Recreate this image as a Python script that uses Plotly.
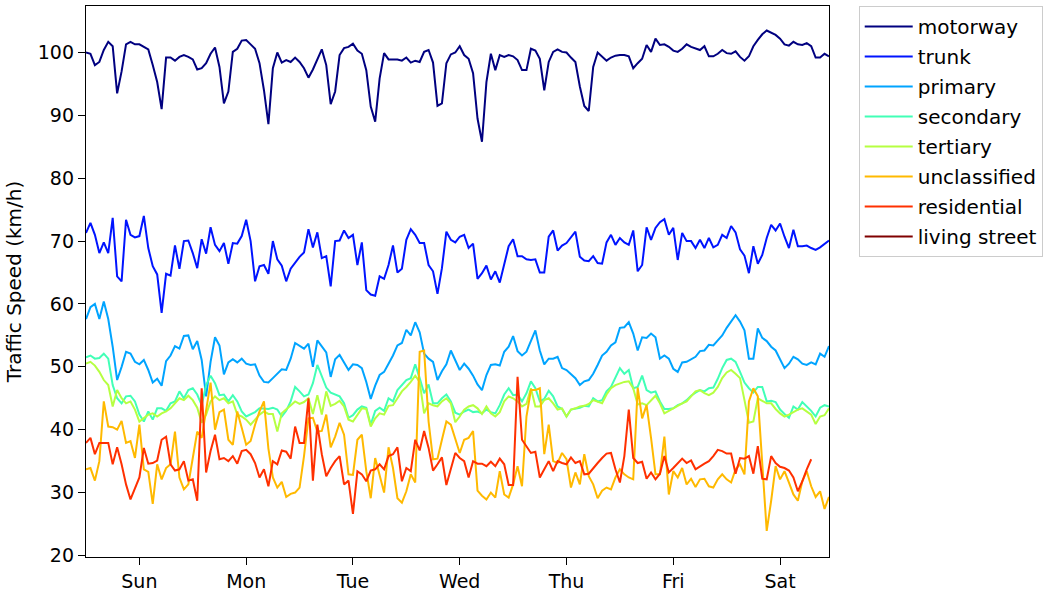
import plotly.graph_objects as go

# hourly average speed over one week, Sunday 00:00 .. Saturday 23:00
hours = list(range(168))
day_names = ["Sun", "Mon", "Tue", "Wed", "Thu", "Fri", "Sat"]
day_ticks = [12 + 24 * i for i in range(7)]

motorway = [
    100, 99.8, 98, 98.5, 100.4, 101.7, 101, 93.5, 97, 101.3,
    101.7, 101.3, 101.3, 100.9, 100.5, 98, 95.3, 91, 99.2, 99.2,
    98.7, 99.3, 99.6, 99.3, 98.9, 97.3, 97.5, 98.3, 99.8, 100.8,
    97.7, 91.9, 93.8, 100.1, 100.6, 101.9, 102, 101.3, 100.6, 98.3,
    94, 88.6, 97.5, 100, 98.4, 98.8, 98.5, 99.2, 98.5, 97.5,
    96, 97.3, 99, 100.5, 98, 91.8, 93.8, 99.6, 100.7, 100.9,
    101.4, 100.3, 99.8, 97.2, 91.4, 89, 95.9, 99.9, 98.9, 98.9,
    98.9, 98.7, 99.2, 98.4, 98.7, 98.5, 100.1, 100.4, 98.4, 91.5,
    91.9, 98.3, 99.7, 100, 101, 99.6, 99, 96.7, 89.5, 85.8,
    95.3, 99.8, 97.2, 99.6, 99.3, 99.6, 99.4, 98.8, 97.2, 97.2,
    100.6, 100.3, 99, 94, 98.5, 100.1, 100.5, 100.1, 100, 99.2,
    98.5, 94.6, 91.5, 90.7, 97.7, 100, 99.3, 98.7, 99.2, 99.5,
    99.6, 99.6, 99.4, 97.5, 98.3, 99, 101.2, 100.1, 102.2, 101.2,
    101.3, 100.9, 100.3, 100.1, 100.6, 101.3, 100.9, 100.6, 100.4, 101,
    99.4, 99.4, 99.8, 100.4, 99.9, 99.8, 100.2, 99.3, 98.7, 99.4,
    101, 102, 102.9, 103.5, 103.1, 102.8, 102.2, 101.3, 101.1, 101.7,
    101.3, 101.2, 101.5, 101, 99.2, 99.2, 99.8, 99.4,
]

trunk = [
    71.3, 72.9, 71, 68.1, 69.8, 68.1, 73.7, 64.4, 63.6, 73.4,
    71, 70.6, 70.8, 74, 68.9, 66, 64.7, 58.6, 64.8, 64.5,
    69.3, 65.6, 70, 70.1, 68.1, 65.7, 70.3, 68, 72.2, 69.4,
    68.4, 69.7, 66.4, 69.7, 69.6, 70.8, 73.4, 70, 63.6, 66,
    66.2, 64.8, 70, 67.1, 66.1, 63.6, 65.6, 66.5, 67.5, 68.2,
    71.9, 69, 71.4, 67.3, 67.6, 62.8, 70, 70.1, 71.7, 70.5,
    71, 66.2, 69.8, 62.2, 61.5, 61.3, 64.4, 64, 66.2, 69.3,
    65, 65.6, 70.2, 71.9, 71, 69.7, 69.7, 66.2, 65.2, 61.6,
    65.7, 71.5, 70.2, 69.8, 70.7, 71, 68.9, 69.6, 64, 64.9,
    66.1, 63.9, 65.2, 63.4, 66.1, 69.2, 70.3, 67.6, 67.6, 67.1,
    67, 67.1, 65, 65, 70.7, 71.7, 68.5, 69.3, 69.7, 70.6,
    71.5, 67.5, 66.9, 66.8, 67.6, 66.5, 66.4, 69.8, 71, 69.4,
    70.5, 69.8, 69.4, 71.7, 65.2, 66.2, 72.2, 70.2, 72.1, 73,
    73.5, 71, 72.1, 67, 71.3, 70, 70, 68.9, 70.2, 68.9,
    70.5, 69, 69.4, 71, 70.5, 72.4, 71.4, 68.7, 67.7, 64.9,
    69.2, 66.4, 67.8, 70.5, 72.6, 71.7, 72.8, 70.7, 68.9, 71.8,
    69.2, 69.2, 69.3, 68.9, 68.6, 69, 69.6, 70.1,
]

primary = [
    57.6, 59.5, 60, 57.6, 60.4, 57.6, 53.2, 47.9, 50, 52.4,
    52.1, 50.8, 50.4, 51.1, 49.5, 47.5, 48.1, 47, 50.9, 51.8,
    53.3, 52.9, 54.9, 55, 52.8, 54.1, 51.1, 45.3, 50.8, 54.7,
    53.4, 48.8, 50.7, 51.2, 50.7, 51.3, 50.5, 50.3, 50.4, 48.6,
    47.6, 47.5, 48.2, 48.9, 49.6, 49.5, 51.3, 53.8, 53.4, 52.9,
    53.7, 50, 54.2, 53.3, 52.3, 48.4, 51.2, 51.9, 50.8, 49.5,
    50.4, 50.3, 49.8, 47.6, 44.9, 47, 48.7, 49.2, 50.5, 51.8,
    53.4, 53.8, 55.9, 55, 57.1, 55.5, 52.1, 51.3, 50.8, 47.9,
    49.3, 50.4, 52.6, 51, 49.5, 50.5, 49.7, 48.6, 47.2, 46.3,
    48.7, 50.3, 50.4, 50.2, 52.4, 53.2, 54.9, 52.5, 51.8, 52.4,
    54.2, 55.8, 52.6, 50.4, 51.3, 51.3, 51.6, 49.8, 49.5, 48.8,
    48.2, 47.1, 47.7, 47.9, 48.9, 50.3, 51.8, 52.4, 53.4, 53.9,
    56.2, 56.3, 57.1, 55.3, 52.6, 54.7, 54.6, 55.3, 54.7, 51.3,
    51.8, 51.3, 49.7, 49.2, 50.7, 50.8, 51.2, 51.6, 52.5, 52.6,
    53.5, 53.4, 54.2, 55, 56.2, 57.2, 58.2, 57.2, 55.8, 51.3,
    51.3, 56.1, 54.6, 54.1, 53.2, 52.6, 51.3, 49.8, 50.5, 51.6,
    51.2, 50.5, 50.3, 50.7, 50.4, 52.1, 51.6, 53.3,
]

secondary = [
    51.5, 51.8, 51.3, 51.4, 52.1, 51.3, 47.1, 45, 44.2, 45.3,
    45.4, 44.5, 42.4, 41.3, 42.9, 41.6, 43.4, 43.4, 43, 44.2,
    44.5, 46.1, 45, 46.3, 46.6, 45.6, 43.9, 47.1, 48.6, 47.4,
    45.5, 45.6, 44.5, 45.5, 44.5, 42.9, 42.1, 42.4, 42.8, 43.4,
    43.4, 43.3, 43.5, 43.2, 42.1, 43, 44.5, 46.8, 46.1, 45.3,
    45.6, 47.4, 50.3, 48.4, 46.7, 45.9, 45.6, 45.3, 44.2, 41.9,
    42.3, 43.2, 43.7, 43.5, 40.8, 43, 43.5, 43, 45, 44.5,
    46.3, 47.1, 47.9, 48.2, 50.4, 48.2, 45.8, 47.2, 44.2, 44.2,
    45, 45.6, 44.5, 42.7, 42.4, 42.9, 43.2, 42.8, 42.9, 42.6,
    43.2, 42.8, 42.6, 43.9, 45.6, 46.6, 45.5, 45.6, 44.5, 45.8,
    47.7, 46.6, 44.5, 44.9, 46.2, 45.3, 43.7, 43.3, 42.1, 43.2,
    43.3, 43.5, 43.8, 43.7, 45, 44.5, 44.7, 46.1, 46.8, 48.2,
    49.8, 48.9, 49.5, 46.6, 46.8, 48.6, 46.3, 45.9, 46.1, 44.5,
    43.3, 43.3, 43.4, 43.9, 44.2, 44.7, 45.4, 45.9, 46.3, 46.1,
    46.6, 46.7, 48.1, 49.8, 51.1, 51.3, 50.8, 49.2, 47.5, 46.6,
    45.9, 46.8, 46.8, 44.5, 44.6, 44.4, 43.2, 42.5, 41.9, 43.7,
    43.2, 44.4, 43.7, 43, 42.1, 43.5, 43.9, 43.7,
]

tertiary = [
    50.5, 50.8, 50.2, 49.2, 47.9, 47.1, 43.7, 46.3, 45, 44.2,
    44.5, 43.2, 41.3, 41.8, 42.4, 42.6, 42.1, 42.6, 42.9, 43.4,
    44.2, 45, 44.7, 45.4, 44.7, 43.5, 41.1, 42.4, 44.5, 45.3,
    44.7, 45, 44.2, 44.5, 42.4, 42.1, 41.6, 40.8, 41.6, 42.4,
    42.9, 42.5, 42.5, 39.7, 42.6, 43.2, 43.8, 44.5, 44.1, 44.4,
    45, 42.5, 45.5, 42.4, 46.1, 43.8, 44.1, 44.6, 43.7, 41.6,
    41.3, 42.4, 43.4, 43.3, 40.5, 41.8, 42.6, 42.4, 43.8, 43.9,
    45.1, 46.1, 46.8, 47.6, 48.6, 47.6, 42.6, 44.2, 43.9, 43.7,
    44.5, 45, 44.2, 41.2, 42.1, 43.2, 43.7, 43.9, 43.4, 42.5,
    43.7, 42.6, 42.1, 42.8, 44.5, 45.3, 45, 44.5, 43.7, 44.1,
    46.6, 43.7, 43.7, 44.7, 45, 44.2, 43.2, 43.4, 42.1, 43.2,
    43.4, 43.7, 43.8, 44.1, 44.7, 44.5, 44.2, 45.6, 46.6, 47.1,
    47.4, 47.6, 47.7, 46.6, 44, 44.2, 43.9, 44.7, 45.4, 44.2,
    42.6, 43, 43.4, 43.9, 44.2, 44.5, 45.3, 46.1, 46.3, 45.8,
    45.5, 45.9, 46.8, 48.2, 49.1, 49.5, 48.9, 48.2, 44.7, 41.1,
    41.3, 45, 44.6, 44.2, 44.2, 43.3, 42.6, 42.1, 42.4, 42.8,
    43.2, 43.4, 42.9, 42.4, 40.9, 42.1, 42.3, 43.4,
]

unclassified = [
    33.7, 33.9, 31.9, 35, 44.5, 40.5, 40.4, 40, 41.4, 37.9,
    38.2, 35.5, 40.8, 33.7, 33.3, 28.2, 34.5, 32.1, 33.9, 34.5,
    39.7, 32.4, 30.5, 31.3, 35.5, 39.7, 38.7, 43.4, 47.5, 40,
    42.8, 43.2, 38.4, 37.6, 42.9, 40.3, 37.6, 38.2, 40.8, 42.9,
    44.5, 37, 32.4, 30.8, 31.7, 29.3, 29.8, 30, 30.8, 35.8,
    41.8, 41.9, 39.7, 39.8, 42.4, 37.2, 38.9, 41.1, 39.2, 32.9,
    32.8, 38.4, 39.2, 33.4, 29.1, 35.5, 32.9, 30, 37.2, 33.9,
    29.1, 28.4, 30.2, 32.9, 31.6, 52.4, 52.6, 41.3, 35.3, 35.4,
    38.4, 41.3, 40.8, 38.7, 36.3, 38.4, 38.7, 39.8, 30.3, 29.5,
    28.9, 30, 29.2, 33.4, 29.7, 29.2, 31.3, 34.2, 31, 42.1,
    46.3, 46.3, 46.6, 36.1, 40.8, 35, 34.7, 36.3, 35.3, 30.8,
    33.2, 31.3, 36.1, 32.6, 31.3, 29.1, 30.3, 30.8, 30.5, 32.4,
    33.7, 32.9, 32.4, 32.1, 46.7, 41.8, 43.9, 38.7, 32.9, 32.9,
    38.9, 29.7, 33.4, 32.4, 33.9, 31.3, 32.2, 30.9, 32.1, 32.2,
    31, 30.8, 32.1, 32.9, 32.1, 31.6, 33.7, 34.5, 32.9, 44.5,
    46.6, 45.3, 33.7, 23.9, 28.7, 34.2, 32.1, 33.4, 31.6, 29.7,
    28.7, 31.8, 33.4, 31, 29.3, 30.2, 27.4, 29.3,
]

# no data for the last hours of saturday
residential = [
    37.9, 38.7, 36.1, 37.9, 37.9, 37.9, 34.5, 37.2, 34.5, 31.3,
    28.9, 30.8, 32.4, 37.1, 34.6, 34.7, 35.1, 38.4, 38.9, 34.5,
    33.5, 33.7, 35, 31.9, 32.1, 28.7, 46.6, 33.2, 36.6, 39.2,
    35.3, 35.5, 35, 35.8, 34.6, 36.6, 36.8, 36.1, 34.7, 32.4,
    33.7, 31, 35, 34.5, 36.7, 36.5, 35.4, 40.5, 37.9, 37.9,
    45, 31.9, 40.8, 36.1, 32.6, 33.9, 35, 35.8, 31.3, 31.9,
    26.6, 33.4, 32.9, 31.8, 33.5, 33.7, 34.5, 33.7, 35.8, 36.1,
    37.2, 31.8, 33.9, 33.4, 38.4, 36.7, 39.8, 37.1, 33.5, 34.5,
    35.6, 31.2, 33.9, 36.3, 35.5, 35, 32.4, 35, 34.6, 34.6,
    34.2, 34.9, 34.2, 35.4, 34.5, 31.2, 31.2, 48.4, 38.4, 37.4,
    36.3, 36.5, 32.4, 33.7, 35, 33.4, 35, 34.7, 34.5, 35.6,
    34.7, 35, 32.9, 33, 33.9, 34.7, 35.5, 36.2, 36.3, 33.7,
    31.6, 35.8, 43.2, 35.5, 34.7, 34.9, 32.2, 33.2, 32.1, 33,
    35.8, 33.2, 33.9, 34.7, 35.4, 34.7, 35.1, 33.7, 34.2, 34.6,
    35, 35.8, 36.8, 36.6, 36.2, 36.2, 33, 35.5, 35.4, 35.8,
    33, 37.4, 32.2, 32.1, 35.8, 34.7, 34.1, 33.9, 33.5, 32.4,
    30.2, 31.8, 33.7, 35.3, None, None, None, None,
]

# living street has no readings in this week
living_street = [None] * 168

road_types = ["motorway", "trunk", "primary", "secondary", "tertiary",
              "unclassified", "residential", "living street"]
speeds = [motorway, trunk, primary, secondary, tertiary,
          unclassified, residential, living_street]
# jet colormap sampled at 8 even steps
colors = ["#000080", "#0014ff", "#00a4ff", "#41ffb6",
          "#b6ff41", "#ffb900", "#ff3000", "#800000"]

fig = go.Figure()
for name, ys, c in zip(road_types, speeds, colors):
    fig.add_trace(go.Scatter(x=hours, y=ys, name=name, mode="lines",
                             line=dict(color=c, width=2), legendgroup=name))

axis_style = dict(showline=True, linecolor="black", linewidth=1.3, mirror=True,
                  ticks="outside", ticklen=7, tickwidth=1.3, tickcolor="black",
                  showgrid=False, zeroline=False, tickfont=dict(size=19))

fig.update_layout(
    width=1060, height=597, autosize=False,
    margin=dict(l=86, r=231, t=5, b=39),
    font=dict(family="DejaVu Sans", color="black"),
    plot_bgcolor="white", paper_bgcolor="white",
    xaxis=dict(range=[0, 167], tickvals=day_ticks, ticktext=day_names, **axis_style),
    yaxis=dict(range=[19.75, 107.4], tickvals=list(range(20, 101, 10)),
               title=dict(text="Traffic Speed (km/h)", font=dict(size=20), standoff=10),
               **axis_style),
    legend=dict(x=1.04, y=1.0, xanchor="left", yanchor="top",
                bordercolor="#cccccc", borderwidth=1, bgcolor="white",
                font=dict(size=20), itemwidth=48,
                traceorder="grouped", tracegroupgap=1),
)

# drop the browser's default page margin so the figure sits at the top-left corner
fig.write_html("out.html", config={"displayModeBar": False},
               post_script="document.body.style.margin = '0';")
